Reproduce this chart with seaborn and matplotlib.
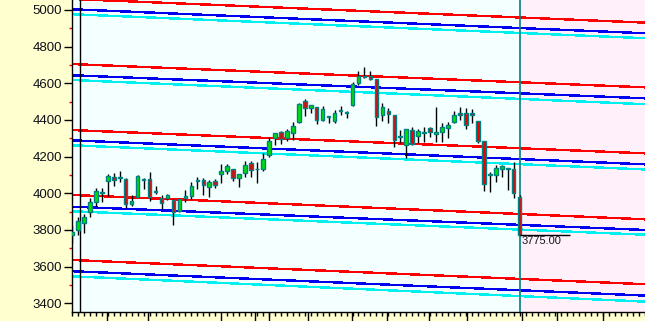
import numpy as np
import pandas as pd
import matplotlib
matplotlib.use("Agg")
import matplotlib.pyplot as plt
import seaborn as sns

# ---------------- data ----------------
opens = [3772, 3800, 3840, 3899, 3950, 4000, 4065, 4090, 4082, 4079,
         3942, 3982, 4072, 4079, 4008, 3972, 3975, 3964, 3906, 3977,
         3986, 4065, 4072, 4037, 4068, 4105, 4119, 4133, 4083, 4108,
         4165, 4130, 4133, 4209, 4300, 4336, 4300, 4327, 4391, 4504,
         4467, 4469, 4400, 4414, 4396, 4449, 4440, 4482, 4603, 4633,
         4640, 4624, 4427, 4449, 4427, 4307, 4264, 4345, 4314, 4327,
         4354, 4324, 4336, 4354, 4387, 4436, 4440, 4436, 4394, 4285,
         4100, 4100, 4134, 4132, 4132, 3981]
highs = [3822, 3871, 3888, 3977, 4030, 4030, 4107, 4109, 4123, 4085,
         3992, 4100, 4085, 4114, 4041, 3992, 3995, 3968, 3972, 4018,
         4059, 4087, 4085, 4070, 4080, 4162, 4160, 4134, 4105, 4178,
         4178, 4169, 4220, 4309, 4329, 4340, 4349, 4391, 4494, 4513,
         4482, 4470, 4476, 4422, 4454, 4476, 4451, 4609, 4667, 4691,
         4667, 4624, 4493, 4465, 4427, 4345, 4349, 4360, 4349, 4360,
         4363, 4472, 4382, 4391, 4451, 4469, 4464, 4460, 4394, 4285,
         4118, 4154, 4154, 4134, 4172, 3990]
lows = [3730, 3772, 3783, 3871, 3932, 3950, 3986, 4041, 4059, 3922,
        3932, 3978, 4025, 3959, 3997, 3915, 3965, 3827, 3900, 3955,
        3968, 4023, 3992, 3981, 4030, 4054, 4105, 4068, 4032, 4087,
        4087, 4054, 4120, 4200, 4264, 4270, 4287, 4291, 4382, 4422,
        4440, 4378, 4396, 4382, 4384, 4427, 4409, 4476, 4591, 4627,
        4618, 4367, 4396, 4384, 4251, 4273, 4191, 4264, 4273, 4282,
        4309, 4282, 4282, 4300, 4382, 4400, 4349, 4382, 4273, 4014,
        4009, 4063, 4091, 4018, 3976, 3770]
closes = [3790, 3849, 3871, 3953, 4014, 4008, 4096, 4073, 4088, 3942,
          3959, 4096, 4076, 3982, 4012, 3946, 3992, 3900, 3970, 3986,
          4041, 4068, 4045, 4063, 4045, 4123, 4151, 4083, 4105, 4156,
          4127, 4130, 4187, 4285, 4327, 4296, 4340, 4367, 4485, 4464,
          4481, 4400, 4460, 4415, 4436, 4452, 4443, 4595, 4642, 4634,
          4625, 4418, 4472, 4431, 4291, 4309, 4349, 4267, 4340, 4336,
          4336, 4336, 4360, 4373, 4427, 4425, 4373, 4425, 4287, 4049,
          4100, 4136, 4149, 4132, 4000, 3775]

# channel lines: value at bar index 0 and at bar index 96
chan_x = [0, 96]
red_start = [5060, 4705, 4345, 3991, 3636]
red_end = [4931, 4578, 4218, 3858, 3504]
blue_start = [5004, 4644, 4289, 3927, 3575]
blue_end = [4873, 4518, 4158, 3800, 3442]
cyan_start = [4977, 4618, 4262, 3902, 3547]
cyan_end = [4846, 4486, 4130, 3774, 3409]

yticks = [3400, 3600, 3800, 4000, 4200, 4400, 4600, 4800, 5000]
yminor = [3500, 3700, 3900, 4100, 4300, 4500, 4700, 4900]
last_price = 3775.00
last_label = "3775.00"

# ---------------- style ----------------
YELLOW = "#FFFFD0"
PLOTBG = "#F4FFFF"
PINK = "#FFF0FA"
TEAL = "#008080"
GREEN = "#00E000"
RED = "#F00000"

sns.set_theme(style="white")
plt.rcParams["font.family"] = ["Liberation Sans", "DejaVu Sans"]

fig = plt.figure(figsize=(6.45, 3.21), dpi=100, facecolor=YELLOW)
ax = fig.add_axes([71.5 / 645, 9.3 / 321, 573.5 / 645, 311.7 / 321])
ax.set_facecolor(PLOTBG)

n = len(opens)
idx = np.arange(n)
o = np.array(opens, float)
c = np.array(closes, float)
h = np.array(highs, float)
l = np.array(lows, float)

# future region
ax.axvspan(75, 96.5, color=PINK, lw=0, zorder=0)

# channel lines via seaborn
rows = []
pal = {}
for name, col, st, en in (("red", "#FF0000", red_start, red_end),
                          ("blue", "#0000F0", blue_start, blue_end),
                          ("cyan", "#00F0F0", cyan_start, cyan_end)):
    for i, (a, b) in enumerate(zip(st, en)):
        key = f"{name}{i}"
        pal[key] = col
        rows.append({"x": chan_x[0], "v": a, "line": key})
        rows.append({"x": chan_x[1], "v": b, "line": key})
df = pd.DataFrame(rows)
sns.lineplot(data=df, x="x", y="v", hue="line", palette=pal, legend=False,
             estimator=None, sort=False, lw=1.0, antialiased=False, ax=ax,
             zorder=2)

# vertical markers
ax.axvline(1.42, color="black", lw=1.0, zorder=3)
ax.axvline(75, color=TEAL, lw=1.2, zorder=3)

# candles
ax.vlines(idx, l, h, color="black", lw=1.0, zorder=4)
bottoms = np.minimum(o, c)
heights = np.maximum(np.abs(c - o), 5)
fills = [GREEN if cc >= oo else RED for oo, cc in zip(o, c)]
ax.bar(idx, heights, bottom=bottoms, width=0.6, color=fills,
       edgecolor=TEAL, linewidth=1.0, zorder=5)

# last price line & label
ax.hlines(last_price, 75, 83.4, color="black", lw=1.0, zorder=6)
ax.text(75.25, last_price - 8, last_label, fontsize=8, color="#151520",
        ha="left", va="top", zorder=7)

# axes
ax.set_xlim(-0.08, 96.0)
ax.set_ylim(3354, 5054.5)
ax.set_xlabel("")
ax.set_ylabel("")

ax.set_yticks(yticks)
ax.set_yticklabels([str(v) for v in yticks])
ax.set_yticks(yminor, minor=True)
ax.tick_params(axis="y", which="major", length=6, width=1, color="black",
               pad=1, labelsize=9.5, labelcolor="#101018", left=True)
ax.tick_params(axis="y", which="minor", length=2.4, width=1, color="red",
               left=True)

tall_black = [5.8, 25.0, 30.65, 39.6, 46.9, 59.85, 66.1, 81.2, 88.9]
tall_red = [12.8, 33.05, 52.8, 75.45]
major_x = sorted(tall_black + tall_red)
ax.set_xticks(major_x)
ax.set_xticklabels([])
ax.set_xticks([i for i in range(0, 97)], minor=True)
ax.tick_params(axis="x", which="major", length=6.5, width=1, color="black",
               bottom=True, direction="out")
ax.tick_params(axis="x", which="minor", length=3, width=1, color="black",
               bottom=True, direction="out")
for t, pos in zip(ax.xaxis.get_major_ticks(), major_x):
    if pos in tall_red:
        t.tick1line.set_color("red")

for s in ("top", "right"):
    ax.spines[s].set_visible(False)
for s in ("left", "bottom"):
    ax.spines[s].set_color("black")
    ax.spines[s].set_linewidth(1.0)

fig.savefig("out.png", dpi=100, facecolor=YELLOW)
